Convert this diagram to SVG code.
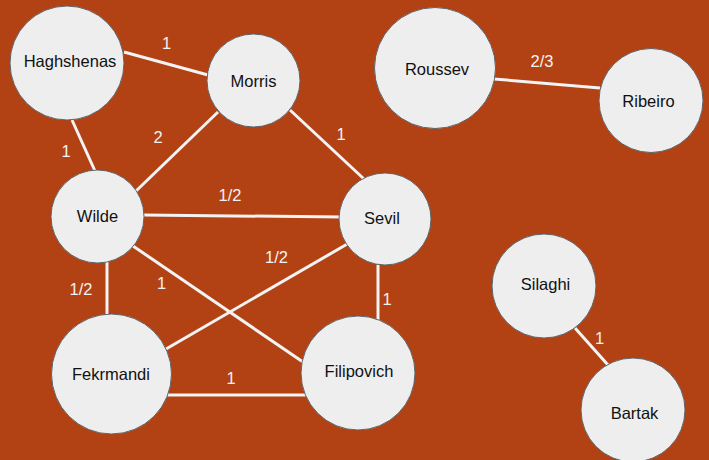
<svg xmlns="http://www.w3.org/2000/svg" width="709" height="460" viewBox="0 0 709 460">
<style>
.bg{fill:#B24113}
.e line{stroke:#F3F3F3;stroke-width:3}
.n circle{fill:#EEEEEE;stroke:#5F6368;stroke-width:1}
.n text{font-family:"Liberation Sans",Arial,sans-serif;font-size:16.5px;fill:#111;text-anchor:middle}
.l text{font-family:"Liberation Sans",Arial,sans-serif;font-size:16.5px;fill:#F3F3F3;text-anchor:middle}
</style>
<rect class="bg" x="0" y="0" width="709" height="460"/>
<g id="connectors" class="e">
<line x1="124" y1="52" x2="208" y2="75"/>
<line x1="72" y1="120" x2="95" y2="171"/>
<line x1="218" y1="112" x2="136" y2="191"/>
<line x1="290" y1="110" x2="364" y2="179"/>
<line x1="143" y1="215" x2="343" y2="217"/>
<line x1="133" y1="246" x2="303" y2="362"/>
<line x1="349" y1="243" x2="166" y2="349"/>
<line x1="107" y1="262" x2="107" y2="315"/>
<line x1="378" y1="265" x2="378" y2="320"/>
<line x1="166" y1="395" x2="306" y2="395"/>
<line x1="494" y1="79" x2="600" y2="88"/>
<line x1="575" y1="328" x2="608" y2="365"/>
</g>
<g id="labels" class="l">
<text x="166.5" y="49">1</text>
<text x="66" y="157">1</text>
<text x="158" y="143">2</text>
<text x="341" y="140">1</text>
<text x="230" y="201">1/2</text>
<text x="276.5" y="263">1/2</text>
<text x="81" y="295">1/2</text>
<text x="161.5" y="289">1</text>
<text x="387" y="305">1</text>
<text x="231" y="384">1</text>
<text x="542" y="67">2/3</text>
<text x="599.5" y="344">1</text>
</g>
<g id="haghshenas" class="n"><circle cx="67" cy="63" r="57"/><text x="70" y="67">Haghshenas</text></g>
<g id="morris" class="n"><circle cx="253.5" cy="80.5" r="46.5"/><text x="253.5" y="87">Morris</text></g>
<g id="roussev" class="n"><circle cx="435" cy="68" r="60.5"/><text x="437" y="75">Roussev</text></g>
<g id="ribeiro" class="n"><circle cx="651" cy="100.5" r="52"/><text x="648.5" y="107">Ribeiro</text></g>
<g id="wilde" class="n"><circle cx="97.5" cy="216.5" r="46.5"/><text x="97.5" y="222">Wilde</text></g>
<g id="sevil" class="n"><circle cx="385" cy="219" r="46"/><text x="382" y="224">Sevil</text></g>
<g id="fekrmandi" class="n"><circle cx="111.5" cy="374" r="60"/><text x="111" y="380">Fekrmandi</text></g>
<g id="filipovich" class="n"><circle cx="358" cy="373" r="57"/><text x="359" y="377">Filipovich</text></g>
<g id="silaghi" class="n"><circle cx="544" cy="286" r="52"/><text x="545.5" y="290">Silaghi</text></g>
<g id="bartak" class="n"><circle cx="633" cy="410" r="52"/><text x="634.5" y="419">Bartak</text></g>
</svg>
